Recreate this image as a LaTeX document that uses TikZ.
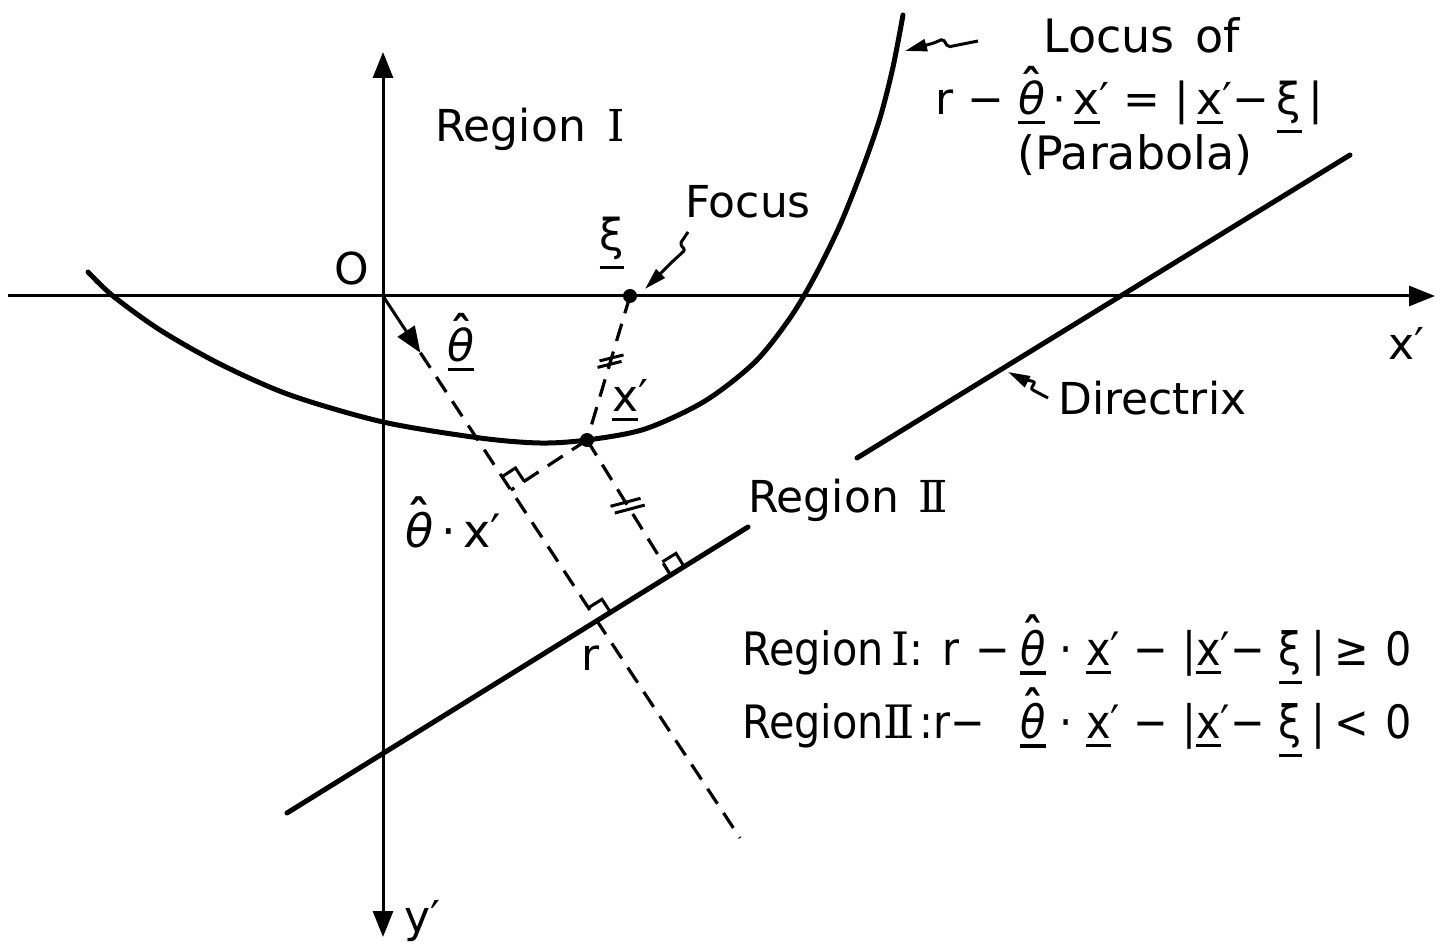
\documentclass[tikz,border=0pt]{standalone}
\usepackage{fontspec}
\setmainfont{DejaVu Sans}
\newfontfamily\condfont[FakeStretch=0.9]{DejaVu Sans}
\newfontfamily\romfont{DejaVu Serif}
\usetikzlibrary{arrows.meta,calc}
\newcommand\ul[1]{\setbox0=\hbox{#1}\leavevmode\rlap{\rule[\dimexpr-\dp0-0.2em\relax]{\wd0}{0.07em}}\box0}
\newcommand\hatt[1]{\setbox0=\hbox{#1}\leavevmode\rlap{\makebox[\wd0]{\raisebox{0.3em}{\bfseries ˆ}}}\box0}
\newcommand\thit{{\itshape θ}}
\newcommand\RI{{\romfont I}}
\newcommand\RII{{\romfont I\kern-0.12em I}}
\newcommand\ramark[3]{%
  \path ($(#1)!16pt!(#2)$) coordinate (ra) ($(#1)!16pt!(#3)$) coordinate (rb);
  \draw[rmark] (ra) -- ($(ra)+(rb)-(#1)$) -- (rb);}
\tikzset{
  lbl/.style={inner sep=0pt, anchor=base west, font=\fontsize{44}{50}\selectfont},
  eqlbl/.style={inner sep=0pt, anchor=base west, font=\condfont\fontsize{46}{50}\selectfont},
  axisline/.style={line width=3pt},
  bigtip/.tip={Triangle[length=26pt,width=20pt]},
  smalltip/.tip={Triangle[length=22pt,width=12pt]},
  curve/.style={line width=5pt, line cap=round},
  dline/.style={line width=3.2pt, dash pattern=on 18pt off 11pt},
  rmark/.style={line width=3pt},
  tick/.style={line width=3pt},
  sq/.style={line width=3pt, rounded corners=2pt, -smalltip},
}
\newcommand\eqtail[1]{\ul{\hatt{\thit}}\hspace{0.3em}·\hspace{0.3em}\ul{x}′\hspace{0.3em}−\hspace{0.3em}|\ul{x}′−\hspace{0.3em}\ul{ξ}\hspace{0.2em}|\hspace{0.2em}#1\hspace{0.35em}0}
\begin{document}
\begin{tikzpicture}[x=1pt,y=-1pt]
\useasboundingbox (0,0) rectangle (1441,949);
% key points
\coordinate (O) at (383,296);
\coordinate (F) at (630,296);
\coordinate (X) at (587,440);
\coordinate (E) at (740,838);
\coordinate (L1) at (287,813);
\coordinate (L2) at (748,527);
\coordinate (U1) at (857,458);
\coordinate (U2) at (1350,155);
\coordinate (xl) at (8,296);
\coordinate (xr) at (1435,296);
\coordinate (yt) at (383,52);
\coordinate (yb) at (383,937);
\coordinate (Th) at ($(O)!68pt!(E)$);
\coordinate (P1) at ($(O)!(X)!(E)$);
\coordinate (P2) at ($(L1)!(X)!(U2)$);
\coordinate (R) at (intersection of O--E and L1--U2);
% axes
\draw[axisline, -bigtip] (xl) -- (xr);
\draw[axisline, bigtip-bigtip] (yt) -- (yb);
% parabola
\draw[curve] plot[smooth] coordinates {(88,272) (113,296) (160,330) (220,364) (290,395) (383,422) (480,438) (540,443) (587,440) (645,429) (705,401) (755,362) (790,318) (815,276) (840,225) (862,170) (880,118) (893,67) (903,15)};
% directrix
\draw[curve] (L1) -- (L2);
\draw[curve] (U1) -- (U2);
% theta arrow and dashed lines
\draw[axisline, -bigtip] (O) -- (Th);
\draw[dline] (Th) -- (E);
\draw[dline] (F) -- (X);
\draw[dline] (X) -- (P1);
\draw[dline] (X) -- (P2);
% right-angle marks
\ramark{P1}{O}{X}
\ramark{P2}{X}{U2}
\ramark{R}{O}{U2}
% equal-length ticks
\path ($(F)!0.43!(X)$) coordinate (t1) ($(F)!0.475!(X)$) coordinate (t2);
\draw[tick] ($(t1)+(-12,3)$) -- ($(t1)+(12,-3)$);
\draw[tick] ($(t2)+(-12,3)$) -- ($(t2)+(12,-3)$);
\path ($(X)!0.46!(P2)$) coordinate (t3) ($(X)!0.51!(P2)$) coordinate (t4);
\draw[tick] ($(t3)+(-15,4)$) -- ($(t3)+(15,-4)$);
\draw[tick] ($(t4)+(-15,4)$) -- ($(t4)+(15,-4)$);
% dots
\fill (F) circle (7pt);
\fill (X) circle (7pt);
% labels
\node[lbl] (regI) at (435,142) {Region\hspace{0.5em}\RI};
\node[lbl, anchor=center] (orig) at (352,268) {O};
\node[lbl, anchor=base] (xi) at (612,251) {\ul{ξ}};
\node[lbl] (focus) at (685,218) {Focus};
\node[lbl, anchor=base] (th) at (461,362) {\ul{\hatt{\thit}}};
\node[lbl] (xp) at (612,412) {\ul{x}′};
\node[lbl, font=\fontsize{46}{50}\selectfont] (thx) at (405,547) {\hatt{\thit}\,·\,x′};
\node[lbl] (rl) at (581,670) {r};
\node[lbl] (regII) at (748,512) {Region\hspace{0.45em}\RII};
\node[lbl, font=\fontsize{46}{50}\selectfont] (locus) at (1043,53) {Locus\hspace{0.45em}of};
\node[lbl] (loceq) at (935,115) {r − \ul{\hatt{\thit}}\,·\,\ul{x}′ = |\,\ul{x}′−\,\ul{ξ}\,|};
\node[lbl, font=\fontsize{46}{50}\selectfont] (para) at (1017,170) {(Parabola)};
\node[lbl] (xax) at (1388,360) {x′};
\node[lbl] (yax) at (404,932) {y′};
\node[lbl] (dirx) at (1058,415) {Directrix};
\node[eqlbl] (eq1) at (742,665) {\makebox[278pt][l]{Region\,\RI:\hspace{0.4em}r\hspace{0.35em}−}\eqtail{≥}};
\node[eqlbl] (eq2) at (742,738) {\makebox[278pt][l]{Region\RII\hspace{0.1em}:r−}\eqtail{<}};
% pointer squiggles
\coordinate (fs) at (688,232);
\coordinate (ftip) at (645,289);
\draw[sq] (fs) -- (680,244) -- (685,250) -- (672,262) -- (ftip);
\coordinate (ls) at (978,41);
\coordinate (ltip) at (905,51);
\draw[sq] (ls) -- (948,47) -- (943,39) -- (934,43) -- (ltip);
\coordinate (ds) at (1048,398);
\coordinate (dtip) at (1008,372);
\draw[sq] (ds) -- (1031,389) -- (1035,382) -- (1020,378) -- (dtip);
\end{tikzpicture}
\end{document}
